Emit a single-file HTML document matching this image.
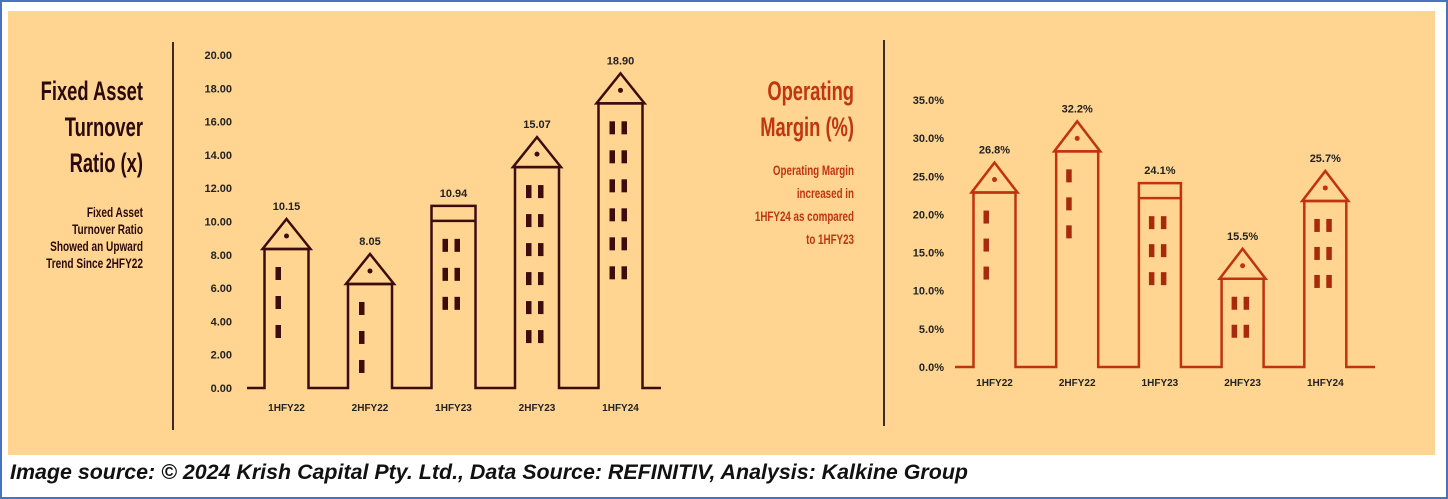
<!DOCTYPE html>
<html><head><meta charset="utf-8"><style>
body{margin:0;width:1448px;height:499px;overflow:hidden;background:#fff;}
svg{display:block}
</style></head><body>
<svg width="1448" height="499" xmlns="http://www.w3.org/2000/svg" id="root">
<rect x="1" y="1" width="1446" height="497" fill="#fff" stroke="#4a72c2" stroke-width="2"/>
<rect x="8" y="11" width="1427" height="444" fill="#ffd591"/>
<line x1="173" y1="42" x2="173" y2="430" stroke="#3a2a20" stroke-width="2"/>
<line x1="884" y1="40" x2="884" y2="426" stroke="#3a2a20" stroke-width="2"/>
<g font-family="'Liberation Sans Narrow','Liberation Sans',sans-serif" text-anchor="end" fill="#2a0a0a">
<text x="143" y="100" font-size="27" font-weight="bold" transform="translate(143,0) scale(0.68,1) translate(-143,0)">Fixed Asset</text>
<text x="143" y="136" font-size="27" font-weight="bold" transform="translate(143,0) scale(0.68,1) translate(-143,0)">Turnover</text>
<text x="143" y="172" font-size="27" font-weight="bold" transform="translate(143,0) scale(0.68,1) translate(-143,0)">Ratio (x)</text>
<g font-size="14" font-weight="bold" transform="translate(143,0) scale(0.72,1) translate(-143,0)">
<text x="143" y="217">Fixed Asset</text>
<text x="143" y="234">Turnover Ratio</text>
<text x="143" y="251">Showed an Upward</text>
<text x="143" y="268">Trend Since 2HFY22</text>
</g></g>
<g font-family="'Liberation Sans Narrow','Liberation Sans',sans-serif" text-anchor="end" fill="#c0360f">
<text x="854" y="100" font-size="27" font-weight="bold" transform="translate(854,0) scale(0.68,1) translate(-854,0)">Operating</text>
<text x="854" y="136" font-size="27" font-weight="bold" transform="translate(854,0) scale(0.68,1) translate(-854,0)">Margin (%)</text>
<g font-size="14" font-weight="bold" transform="translate(854,0) scale(0.7,1) translate(-854,0)">
<text x="854" y="175">Operating Margin</text>
<text x="854" y="198">increased in</text>
<text x="854" y="221">1HFY24 as compared</text>
<text x="854" y="244">to 1HFY23</text>
</g></g>
<g id="leftChart"></g>
<g id="rightChart"></g>
<text x="10" y="479" font-family="'Liberation Sans',sans-serif" font-size="21" font-weight="bold" font-style="italic" fill="#111" textLength="958" lengthAdjust="spacingAndGlyphs">Image source: © 2024 Krish Capital Pty. Ltd., Data Source: REFINITIV, Analysis: Kalkine Group</text>
</svg>
<script>
const categories = ['1HFY22','2HFY22','1HFY23','2HFY23','1HFY24'];
const fixedAssetValues = [10.15, 8.05, 10.94, 15.07, 18.90];
const fixedAssetLabels = ['10.15','8.05','10.94','15.07','18.90'];
const fixedAssetTicks = [0,2,4,6,8,10,12,14,16,18,20];
const fixedAssetRoof = ['peak','peak','flat','peak','peak'];
const fixedAssetWindowRows = [3,3,3,6,6];
const fixedAssetWindowCols = [1,1,2,2,2];
const marginValues = [26.8, 32.2, 24.1, 15.5, 25.7];
const marginLabels = ['26.8%','32.2%','24.1%','15.5%','25.7%'];
const marginTicks = [0,5,10,15,20,25,30,35];
const marginRoof = ['peak','peak','flat','peak','peak'];
const marginWindowRows = [3,3,3,2,3];
const marginWindowCols = [1,1,2,2,2];

const NS='http://www.w3.org/2000/svg';
function mk(tag,attrs,parent){const e=document.createElementNS(NS,tag);for(const k in attrs)e.setAttribute(k,attrs[k]);parent.appendChild(e);return e;}

function drawChart(g,cfg){
  const y=v=>cfg.y0-(v-0)/cfg.max*(cfg.y0-cfg.yTop);
  const x=i=>cfg.x0+i*cfg.step;
  const col=cfg.color, hw=cfg.barW/2;
  cfg.ticks.forEach((t,i)=>{
    const tx=mk('text',{x:cfg.tickX,y:y(t)+4,'text-anchor':'end','font-size':11,'font-weight':'bold','font-family':"'Liberation Sans',sans-serif",fill:'#222'},g);
    tx.textContent=cfg.tickFmt(t);
    
    
  });
  let d='M'+cfg.baseStart+','+cfg.y0;
  cfg.values.forEach((v,i)=>{
    const cx=x(i), top=cfg.roof[i]==='peak'?y(v)+30:y(v);
    d+=' L'+(cx-hw)+','+cfg.y0+' L'+(cx-hw)+','+top+' L'+(cx+hw)+','+top+' L'+(cx+hw)+','+cfg.y0;
  });
  d+=' L'+cfg.baseEnd+','+cfg.y0;
  const p=mk('path',{d:d,fill:'none',stroke:col,'stroke-width':2.5},g);
  
  
  cfg.values.forEach((v,i)=>{
    const cx=x(i), ay=y(v);
    let bodyTop;
    if(cfg.roof[i]==='peak'){
      bodyTop=ay+30;
      const r=mk('path',{d:'M'+(cx-hw-2)+','+bodyTop+' L'+cx+','+ay+' L'+(cx+hw+2)+','+bodyTop+' Z',fill:'none',stroke:col,'stroke-width':2.5},g);
      
      
      const c=mk('circle',{cx:cx,cy:ay+17,r:2.5,fill:col},g);
      
      
    } else {
      bodyTop=ay+15;
      const l=mk('line',{x1:cx-hw,y1:bodyTop,x2:cx+hw,y2:bodyTop,stroke:col,'stroke-width':2.5},g);
      
      
    }
    const b=mk('rect',{x:cx-hw,y:bodyTop,width:cfg.barW,height:cfg.y0-bodyTop,fill:'none',stroke:'none'},g);
    
    
    const rows=cfg.rows[i], cols=cfg.cols[i];
    for(let r=0;r<rows;r++){
      for(let c=0;c<cols;c++){
        const wx=cols===1?cx-3-8:cx-8+c*12-3;
        const w=mk('rect',{x:wx,y:bodyTop+18+r*cfg.winStep,width:5.5,height:13,fill:cfg.winColor},g);
        
        
      }
    }
    const lt=mk('text',{x:cx,y:ay-9,'text-anchor':'middle','font-size':11,'font-weight':'bold','font-family':"'Liberation Sans',sans-serif",fill:'#222'},g);
    lt.textContent=cfg.labels[i];
    
    
    const ct=mk('text',{x:cx,y:cfg.catY,'text-anchor':'middle','font-size':10,'font-weight':'bold','font-family':"'Liberation Sans',sans-serif",fill:'#222'},g);
    ct.textContent=categories[i];
    
    
  });
}
drawChart(document.getElementById('leftChart'),{values:fixedAssetValues,labels:fixedAssetLabels,ticks:fixedAssetTicks,max:20,y0:388,yTop:55,x0:286.5,step:83.5,barW:44,tickX:232,tickFmt:t=>t.toFixed(2),color:'#3d0c0c',winColor:'#3d0c0c',roof:fixedAssetRoof,rows:fixedAssetWindowRows,cols:fixedAssetWindowCols,winStep:29,catY:411,baseStart:247,baseEnd:661});
drawChart(document.getElementById('rightChart'),{values:marginValues,labels:marginLabels,ticks:marginTicks,max:35,y0:367,yTop:100,x0:994.5,step:82.7,barW:42,tickX:944,tickFmt:t=>t.toFixed(1)+'%',color:'#c1330d',winColor:'#a82a0c',roof:marginRoof,rows:marginWindowRows,cols:marginWindowCols,winStep:28,catY:386,baseStart:955,baseEnd:1375});
</script>
</body></html>
